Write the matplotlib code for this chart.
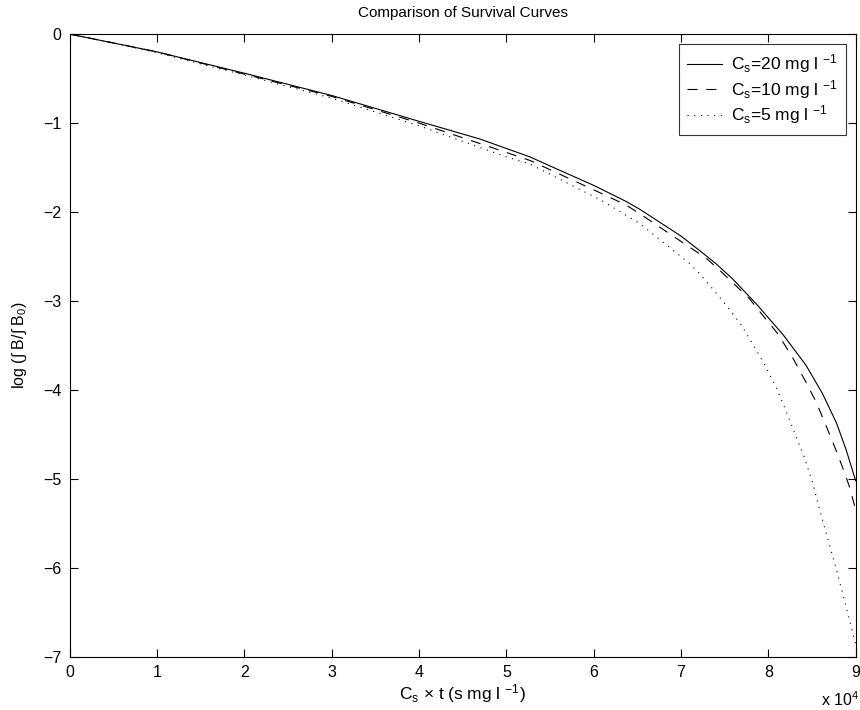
import matplotlib
matplotlib.use("Agg")
import matplotlib.pyplot as plt

plt.rcParams['font.family'] = ['Liberation Sans', 'DejaVu Sans']
plt.rcParams['mathtext.fontset'] = 'custom'
plt.rcParams['mathtext.rm'] = 'Liberation Sans'
plt.rcParams['mathtext.it'] = 'Liberation Sans'
plt.rcParams['mathtext.default'] = 'regular'

# x values in units of 1e4 (s mg l^-1)
x_20 = [0, 0.5, 1, 2, 3, 4, 4.7, 5.27, 5.61, 6.0, 6.37, 6.53, 7.0, 7.21, 7.4, 7.59, 7.86, 8.17, 8.43, 8.62, 8.78, 8.89, 9.0]
y_20 = [0, -0.10, -0.20, -0.44, -0.69, -0.98, -1.18, -1.38, -1.53, -1.70, -1.88, -1.97, -2.27, -2.43, -2.58, -2.75, -3.03, -3.38, -3.72, -4.04, -4.37, -4.67, -5.02]

x_10 = [0, 0.5, 1, 2, 3, 4, 5, 5.27, 6.0, 6.37, 6.53, 7.0, 7.29, 7.46, 7.78, 7.96, 8.11, 8.28, 8.43, 8.55, 8.66, 8.76, 8.85, 8.93, 9.0]
y_10 = [0, -0.10, -0.20, -0.45, -0.70, -1.00, -1.33, -1.42, -1.75, -1.92, -2.02, -2.33, -2.52, -2.67, -2.97, -3.19, -3.37, -3.64, -3.91, -4.14, -4.40, -4.64, -4.87, -5.09, -5.35]

x_5 = [0, 0.5, 1, 2, 3, 4, 5, 5.27, 6.09, 6.53, 7.1, 7.21, 7.36, 7.52, 7.69, 7.82, 7.96, 8.09, 8.20, 8.32, 8.41, 8.51, 8.58, 8.78, 8.97, 9.0]
y_5 = [0, -0.10, -0.21, -0.46, -0.72, -1.03, -1.38, -1.46, -1.87, -2.13, -2.58, -2.69, -2.86, -3.05, -3.27, -3.48, -3.72, -3.97, -4.23, -4.53, -4.75, -5.05, -5.32, -6.02, -6.74, -6.86]

labels = [r'C$_s$=20 mg l $^{-1}$', r'C$_s$=10 mg l $^{-1}$', r'C$_s$=5 mg l $^{-1}$']
xticks = [0, 1, 2, 3, 4, 5, 6, 7, 8, 9]
yticks = [0, -1, -2, -3, -4, -5, -6, -7]

fig = plt.figure(figsize=(8.6, 7.1), dpi=100)
ax = fig.add_axes([0.081, 0.0746, 0.914, 0.8774])

ax.plot(x_20, y_20, color='black', lw=0.8, linestyle='-', label=labels[0])
ax.plot(x_10, y_10, color='black', lw=0.8, linestyle=(0, (9, 8)), label=labels[1])
ax.plot(x_5, y_5, color='black', lw=0.8, linestyle=(0, (1, 5)), label=labels[2])

ax.set_xlim(0, 9)
ax.set_ylim(-7, 0)
ax.set_xticks(xticks)
ax.set_yticks(yticks)
ax.set_xticklabels([str(t) for t in xticks])
ax.set_yticklabels([str(t).replace('-', '\u2212') for t in yticks])
ax.tick_params(direction='in', top=True, right=True, length=6, width=0.8, labelsize=11.5, pad=6)
for s in ax.spines.values():
    s.set_linewidth(0.8)

ax.set_title('Comparison of Survival Curves', fontsize=11, pad=12)
ax.set_xlabel(r'C$_s$ $\times$ t (s mg l $^{-1}$)', fontsize=12.5, labelpad=1)
ax.set_ylabel('log (\u222b B/\u222b B$_0$)', fontsize=11.5, labelpad=10)

fig.text(0.999, 0.002, r'x 10$^4$', ha='right', va='bottom', fontsize=11.5)

leg = ax.legend(loc='upper right', fontsize=12.5, frameon=True, fancybox=False,
                edgecolor='black', handlelength=2.0, handletextpad=0.5,
                borderaxespad=0.55, labelspacing=0.15, borderpad=0.5)
leg.get_frame().set_linewidth(0.8)

fig.savefig('out.png', dpi=100)
